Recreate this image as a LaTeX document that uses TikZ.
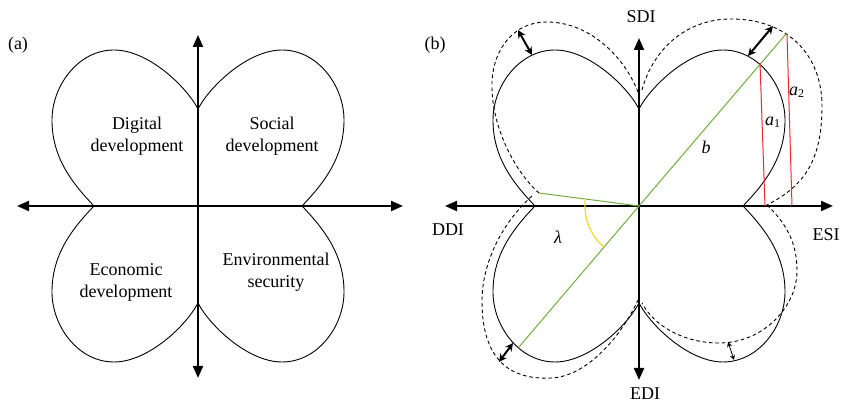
\documentclass[tikz,border=0pt]{standalone}
\usepackage{fontspec}
\setmainfont{Liberation Serif}
\usetikzlibrary{arrows.meta}
\definecolor{diagGreen}{RGB}{112,173,60}
\definecolor{arcYellow}{RGB}{245,215,40}
\definecolor{heightRed}{RGB}{236,40,50}
\tikzset{
    axis line/.style = {
        line width=1pt,
        {Triangle[length=6pt,width=5pt]}-{Triangle[length=6pt,width=5pt]},
        },
    petal/.style = {
        line width=0.45pt,
        },
    new petal/.style = {
        line width=0.45pt,
        dash pattern=on 1.8pt off 1.4pt,
        },
    gap/.style = {
        line width=1pt,
        {Stealth[length=4pt,width=4pt]}-{Stealth[length=4pt,width=4pt]},
        },
    small gap/.style = {
        line width=0.4pt,
        {Stealth[length=2.5pt,width=2.5pt]}-{Stealth[length=2.5pt,width=2.5pt]},
        },
    radius line/.style = {
        draw=diagGreen,
        line width=0.5pt,
        },
    height line/.style = {
        draw=heightRed,
        line width=0.5pt,
        },
    angle arc/.style = {
        draw=arcYellow,
        line width=0.6pt,
        },
    quad text/.style = {
        font=\fontsize{9}{11}\selectfont,
        align=center,
        },
}

\begin{document}
\begin{tikzpicture}[x=0.5pt, y=-0.5pt]
    \useasboundingbox (0,0) rectangle (842,405);

    % (a) the four dimensions
    \node[quad text] (tag a) at (18,45) {(a)};
    \coordinate (a top) at (198,35);
    \coordinate (a bottom) at (198,378);
    \coordinate (a left) at (17,206);
    \coordinate (a right) at (403,206);
    \draw[axis line] (a bottom) -- (a top);
    \draw[axis line] (a left) -- (a right);

    \node[quad text] (digital) at (137,136) {Digital\\development};
    \node[quad text] (social) at (272,136) {Social\\development};
    \node[quad text] (economic) at (126,282) {Economic\\development};
    \node[quad text] (environment) at (276,272) {Environmental\\security};

    % petals of both panels
    \foreach \cx in {198,639}
        \foreach \sx/\sy in {1/-1,-1/-1,-1/1,1/1}
            \draw[petal, shift={(\cx,206)}, xscale=\sx, yscale=\sy]
                (0,97) .. controls (12,120) and (50,156) .. (84,156)
                .. controls (120,156) and (146,120) .. (146,86)
                .. controls (146,50) and (128,25) .. (104,0);

    % (b) the index
    \node[quad text] (tag b) at (435,45) {(b)};
    \coordinate (b top) at (639,38);
    \coordinate (b bottom) at (639,380);
    \coordinate (b left) at (445,206);
    \coordinate (b right) at (833,206);
    \draw[axis line] (b bottom) -- (b top);
    \draw[axis line] (b left) -- (b right);

    \node[quad text] (sdi) at (641,17) {SDI};
    \node[quad text] (edi) at (645,394) {EDI};
    \node[quad text] (ddi) at (448,230) {DDI};
    \node[quad text] (esi) at (826,235) {ESI};

    \begin{scope}[shift={(639,206)}, yscale=-1]
        % expanded petals
        \draw[new petal] (-1,114) .. controls (-15,150) and (-50,184) .. (-92,184)
            .. controls (-130,184) and (-148,150) .. (-147,119)
            .. controls (-147,80) and (-125,35) .. (-100,13);
        \draw[new petal] (3,116) .. controls (15,160) and (50,187) .. (92,187)
            .. controls (150,187) and (183,150) .. (183,100)
            .. controls (183,45) and (165,20) .. (128,1);
        \draw[new petal] (128,1) .. controls (150,-20) and (158,-40) .. (158,-65)
            .. controls (158,-100) and (125,-137) .. (80,-137)
            .. controls (45,-137) and (15,-120) .. (3,-97);
        \draw[new petal] (-107,10) .. controls (-135,-15) and (-157,-55) .. (-157,-95)
            .. controls (-157,-155) and (-128,-174) .. (-88,-172)
            .. controls (-55,-171) and (-20,-135) .. (-1,-94);

        \coordinate (o) at (0,0);
        \coordinate (b end) at (147,172);
        \coordinate (lambda end) at (-100,13);
        \coordinate (diag end) at (-120,-141);
        \coordinate (a1 top) at (121,143);
        \coordinate (a1 foot) at (126,0);
        \coordinate (a2 top) at (148,172);
        \coordinate (a2 foot) at (153,0);

        \draw[radius line] (o) -- (b end);
        \draw[radius line] (o) -- (lambda end);
        \draw[radius line] (o) -- (diag end);
        \draw[height line] (a1 top) -- (a1 foot);
        \draw[height line] (a2 top) -- (a2 foot);
        \draw[angle arc] (172.7:54) arc[start angle=172.7, end angle=229.6, radius=54];

        \coordinate (ul out) at (-121,176);
        \coordinate (ul in) at (-107,151);
        \coordinate (ur out) at (134,180);
        \coordinate (ur in) at (109,150);
        \coordinate (ll out) at (-140,-156);
        \coordinate (ll in) at (-126,-137);
        \coordinate (lr out) at (89,-136);
        \coordinate (lr in) at (95,-154);
        \draw[gap] (ul out) -- (ul in);
        \draw[gap] (ur out) -- (ur in);
        \draw[gap] (ll out) -- (ll in);
        \draw[small gap] (lr out) -- (lr in);

        \node[quad text] (b label) at (67,59) {\textit{b}};
        \node[quad text] (a1 label) at (134,84) {\textit{a}\textsubscript{1}};
        \node[quad text] (a2 label) at (158,114) {\textit{a}\textsubscript{2}};
        \node[quad text] (lambda label) at (-81,-31) {\textit{λ}};
    \end{scope}
\end{tikzpicture}
\end{document}
